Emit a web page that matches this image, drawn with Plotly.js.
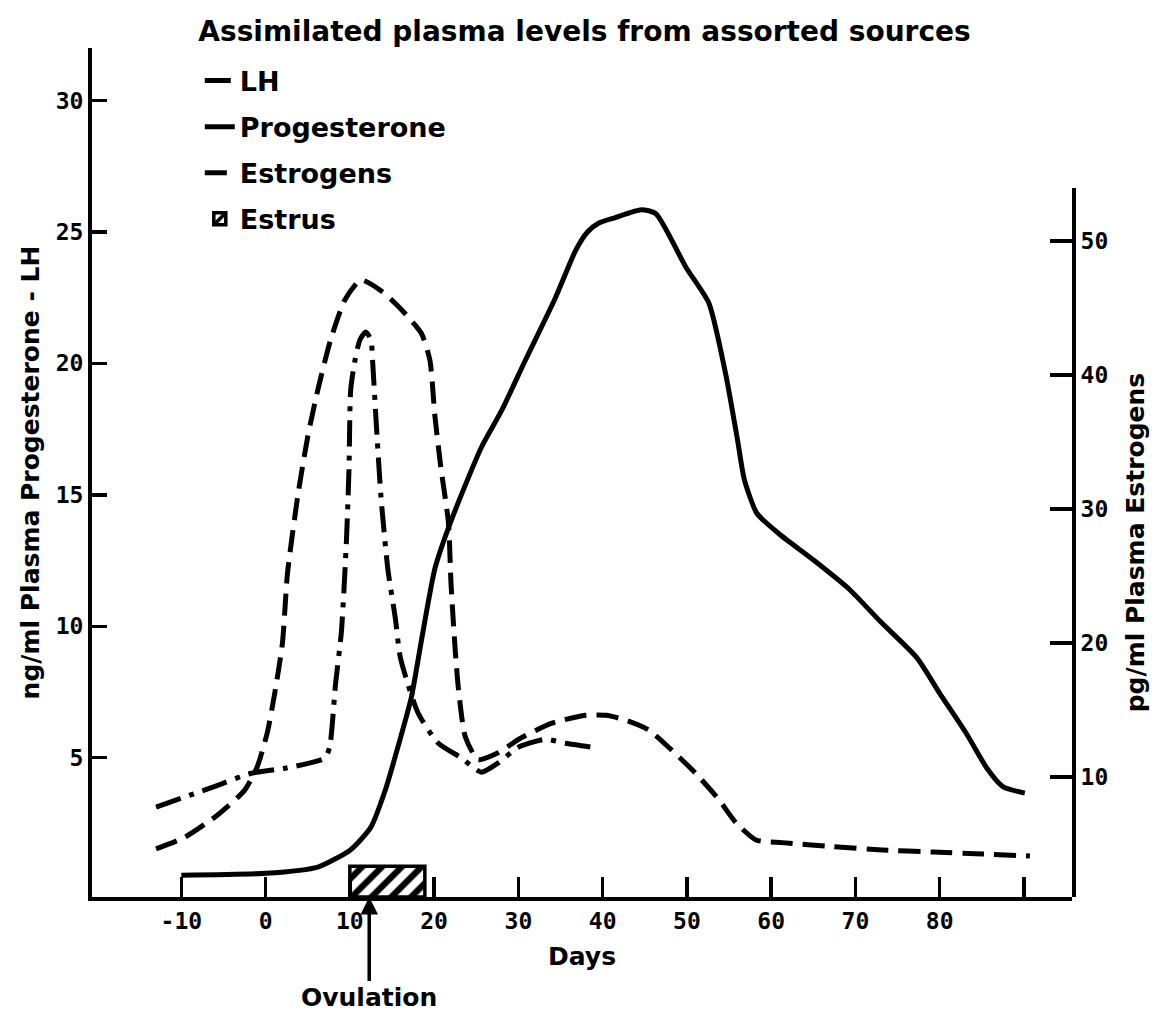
<!DOCTYPE html>
<html>
<head>
<meta charset="utf-8">
<script src="https://cdn.plot.ly/plotly-3.0.1.min.js"></script>
<style>html,body{margin:0;padding:0;background:#fff;}#chart{width:1169px;height:1018px;}</style>
</head>
<body>
<div id="chart"></div>
<script>
// ---- Data ----
const progDays = [-10, 0, 6.2, 10.1, 12.5, 14.2, 15.7, 17.3, 18.5, 20.1, 22, 25.6, 28, 30.8, 34.4, 36.8, 38.2, 39.6, 41.5, 44.6, 46.3, 49.9, 52.6, 54.6, 56, 56.8, 58.3, 61, 65.1, 69.3, 72.9, 77.3, 80, 83.2, 85.6, 87.5, 90.1];
const progesterone = [0.53, 0.6, 0.84, 1.5, 2.36, 3.76, 5.4, 7.3, 9.47, 12.2, 14.0, 16.8, 18.2, 20.1, 22.5, 24.3, 25.0, 25.35, 25.55, 25.85, 25.7, 23.65, 22.3, 19.6, 17.1, 15.6, 14.3, 13.5, 12.5, 11.4, 10.2, 8.8, 7.45, 5.9, 4.6, 3.9, 3.65];

const lhDays = [-13, -6.1, -1.8, 2.3, 7, 7.6, 8.3, 9.0, 9.6, 9.9, 10.1, 10.6, 11.2, 11.9, 12.5, 12.7, 13.1, 13.7, 14.5, 15.4, 16, 18.1, 20.5, 23.2, 25.6, 27.6, 30, 33.2, 35.6, 38.7];
const lh = [3.12, 3.9, 4.4, 4.6, 4.98, 5.4, 7.8, 9.8, 13.3, 16, 19, 20.1, 20.9, 21.2, 20.9, 20.1, 17.9, 14.9, 12.2, 10.3, 8.8, 6.7, 5.55, 5.0, 4.45, 4.8, 5.4, 5.7, 5.55, 5.4];

const estrDays = [-13, -9.6, -5.7, -2.5, -1, 0.2, 1.1, 2, 2.6, 3.8, 5, 6.2, 7.7, 9.4, 11.3, 13.7, 16.1, 18.5, 19.5, 20.1, 20.8, 21.7, 22, 22.5, 22.9, 23.7, 25.2, 27.6, 30, 33.9, 38, 40.4, 42.7, 45.5, 48.2, 51, 53.8, 55.8, 58.2, 61.3, 67.3, 73.2, 79.2, 85.1, 90.7];
const estrogens = [4.63, 5.5, 7.16, 9.0, 10.75, 13.3, 16.3, 20, 25.2, 30.9, 35.4, 38.9, 42.6, 45.6, 47.1, 46.3, 44.9, 43.1, 41.1, 36.9, 33.1, 29, 24.5, 19.5, 16.5, 13.0, 11.3, 11.8, 12.8, 14.0, 14.6, 14.6, 14.25, 13.5, 12.0, 10.3, 8.3, 6.6, 5.3, 5.1, 4.8, 4.55, 4.4, 4.25, 4.1];

// Estrus period (days) and bar height on left axis
const estrusStart = 10;
const estrusEnd = 18.9;
const estrusLevel = 0.87;

const ovulationDay = 12.3;

const xTickVals = [-10, 0, 10, 20, 30, 40, 50, 60, 70, 80, 90];
const xTickText = ['-10', '0', '10', '20', '30', '40', '50', '60', '70', '80', ''];
const yLeftTicks = [5, 10, 15, 20, 25, 30];
const yRightTicks = [10, 20, 30, 40, 50];

// ---- Styling ----
const INK = '#000000';
const SANS = 'DejaVu Sans, Open Sans, sans-serif';
const labelFont = {family: SANS, size: 25, color: INK, weight: 'bold'};
const tickFont = {family: 'DejaVu Sans Mono, Liberation Mono, monospace', size: 23, color: INK, weight: 'bold'};
const yBase = -0.3;

const traces = [
  {
    x: lhDays, y: lh, name: 'LH', type: 'scatter', mode: 'lines',
    xaxis: 'x', yaxis: 'y', legendgroup: 'a',
    line: {color: INK, width: 5, dash: '26px,9px,5px,9px', shape: 'spline', smoothing: 0.6}
  },
  {
    x: progDays, y: progesterone, name: 'Progesterone', type: 'scatter', mode: 'lines',
    xaxis: 'x', yaxis: 'y', legendgroup: 'b',
    line: {color: INK, width: 5, shape: 'spline', smoothing: 0.6}
  },
  {
    x: estrDays, y: estrogens, name: 'Estrogens', type: 'scatter', mode: 'lines',
    xaxis: 'x', yaxis: 'y2', legendgroup: 'c',
    line: {color: INK, width: 5, dash: '22px,10px', shape: 'spline', smoothing: 0.6}
  },
  {
    x: [(estrusStart + estrusEnd) / 2], y: [estrusLevel - yBase], base: [yBase],
    width: [estrusEnd - estrusStart], name: 'Estrus', type: 'bar',
    xaxis: 'x', yaxis: 'y', legendgroup: 'd',
    marker: {color: '#ffffff', line: {color: INK, width: 3.5},
             pattern: {shape: '/', fgcolor: INK, bgcolor: '#ffffff', size: 14, solidity: 0.45}}
  }
];

const layout = {
  width: 1169, height: 1018,
  paper_bgcolor: '#ffffff', plot_bgcolor: 'rgba(0,0,0,0)',
  margin: {l: 92, r: 97, t: 48, b: 121},
  showlegend: true,
  font: {family: SANS, color: INK},
  title: {
    text: 'Assimilated plasma levels from assorted sources',
    font: {family: SANS, size: 28, color: INK, weight: 'bold'},
    xref: 'container', x: 0.5, xanchor: 'center',
    yref: 'container', y: 0.969, yanchor: 'middle'
  },
  legend: {
    x: 0.11, y: 0.99, xanchor: 'left', yanchor: 'top',
    bgcolor: 'rgba(0,0,0,0)', borderwidth: 0,
    font: {family: SANS, size: 27, color: INK, weight: 'bold'},
    tracegroupgap: 8, traceorder: 'grouped'
  },
  xaxis: {
    range: [-20.6, 95.7], domain: [0, 1], anchor: 'y',
    showline: true, linecolor: INK, linewidth: 4,
    ticks: 'inside', ticklen: 20, tickwidth: 3.5, tickcolor: INK,
    tickmode: 'array', tickvals: xTickVals, ticktext: xTickText,
    tickfont: tickFont, showgrid: false, zeroline: false,
    title: {text: 'Days', font: labelFont, standoff: 16}
  },
  yaxis: {
    range: [yBase, 32], domain: [0, 1], anchor: 'x',
    showline: true, linecolor: INK, linewidth: 4,
    ticks: 'inside', ticklen: 15, tickwidth: 3.5, tickcolor: INK,
    tickmode: 'array', tickvals: yLeftTicks,
    tickfont: tickFont, showgrid: false, zeroline: false,
    title: {text: 'ng/ml Plasma Progesterone - LH', font: labelFont, standoff: 10}
  },
  yaxis2: {
    range: [1.04, 53.96], domain: [0, 0.835], anchor: 'x', side: 'right',
    showline: true, linecolor: INK, linewidth: 4,
    ticks: 'inside', ticklen: 22, tickwidth: 3.5, tickcolor: INK,
    tickmode: 'array', tickvals: yRightTicks,
    tickfont: tickFont, showgrid: false, zeroline: false,
    title: {text: 'pg/ml Plasma Estrogens', font: labelFont, standoff: 20}
  },
  annotations: [
    {
      x: ovulationDay, y: yBase, xref: 'x', yref: 'y',
      text: 'Ovulation', font: labelFont,
      showarrow: true, arrowhead: 2, arrowsize: 1, arrowwidth: 3.5, arrowcolor: INK,
      ax: 0, ay: 100, standoff: 0
    }
  ]
};

Plotly.newPlot('chart', traces, layout, {displayModeBar: false, staticPlot: true});
</script>
</body>
</html>
